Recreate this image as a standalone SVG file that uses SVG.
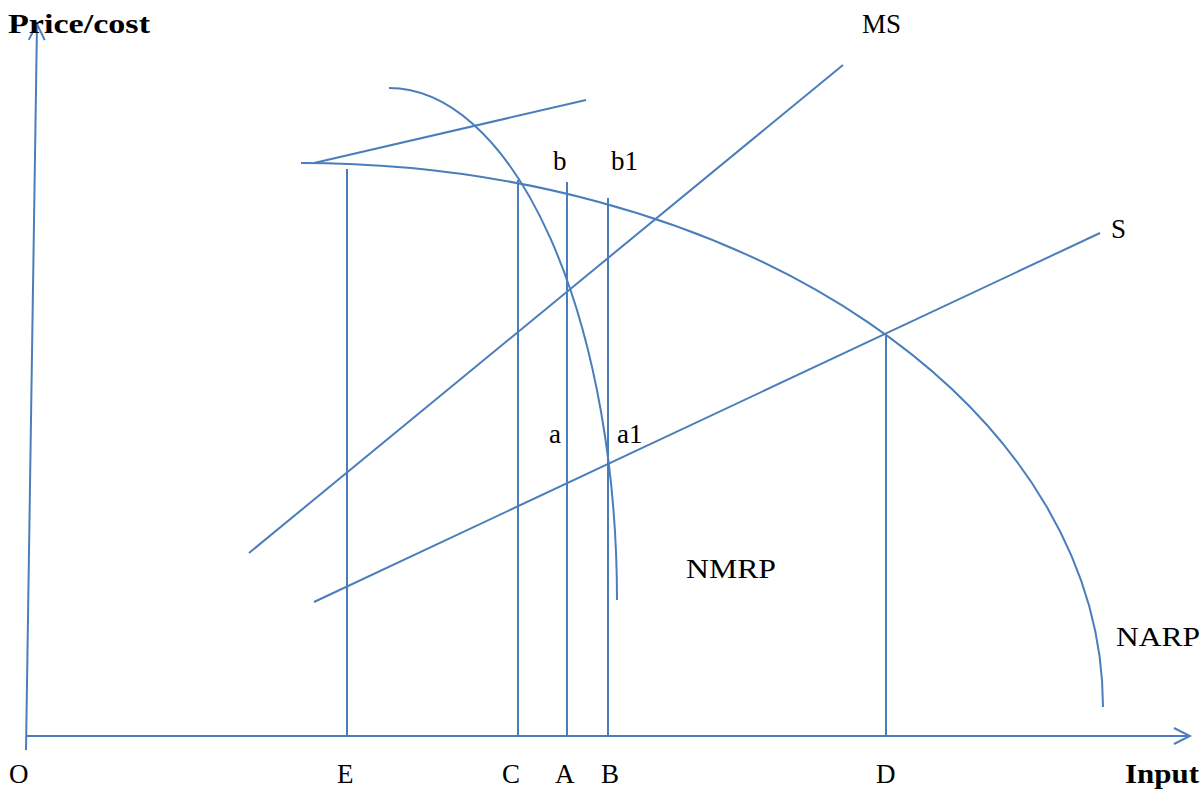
<svg xmlns="http://www.w3.org/2000/svg" width="1203" height="789" viewBox="0 0 1203 789">
<style>
.l{stroke:#4a7ebb;stroke-width:2;fill:none}
.t{font-family:"Liberation Serif",serif;font-size:27px;fill:#000}
.b{font-weight:bold}
</style>
<defs>
<marker id="ar" viewBox="0 0 20 20" refX="18" refY="10" markerWidth="20" markerHeight="20" markerUnits="userSpaceOnUse" orient="auto">
<path d="M2,2 L18,10 L2,18" fill="none" stroke="#4a7ebb" stroke-width="2"/>
</marker>
</defs>
<rect width="1203" height="789" fill="#fff"/>
<g id="axes">
<line class="l" x1="26" y1="750" x2="37" y2="24" marker-end="url(#ar)"/>
<line class="l" x1="26" y1="736" x2="1190" y2="736" marker-end="url(#ar)"/>
</g>
<g id="connectors">
<line class="l" x1="249" y1="553" x2="843" y2="65"/>
<line class="l" x1="314" y1="602" x2="1100" y2="233"/>
<line class="l" x1="314" y1="163" x2="586" y2="100"/>
<line class="l" x1="347" y1="169" x2="347" y2="736"/>
<line class="l" x1="518" y1="180" x2="518" y2="736"/>
<line class="l" x1="567" y1="182" x2="567" y2="736"/>
<line class="l" x1="608" y1="198" x2="608" y2="736"/>
<line class="l" x1="886" y1="336" x2="886" y2="736"/>
</g>
<g id="NARP"><path class="l" d="M301,163 A802,544 0 0 1 1103,707"/></g>
<g id="NMRP"><path class="l" d="M389,88 A228,512 0 0 1 617,600"/></g>
<g id="labels">
<text class="t b" x="8" y="33" textLength="142" lengthAdjust="spacingAndGlyphs">Price/cost</text>
<text class="t b" x="1125" y="783" textLength="74" lengthAdjust="spacingAndGlyphs">Input</text>
<text class="t" x="862" y="33">MS</text>
<text class="t" x="1111" y="238">S</text>
<text class="t" x="553" y="170">b</text>
<text class="t" x="611" y="170">b1</text>
<text class="t" x="549" y="443">a</text>
<text class="t" x="617" y="443">a1</text>
<text class="t" x="686" y="578" textLength="90" lengthAdjust="spacingAndGlyphs">NMRP</text>
<text class="t" x="1116" y="646" textLength="84" lengthAdjust="spacingAndGlyphs">NARP</text>
<text class="t" x="9" y="783">O</text>
<text class="t" x="337" y="783">E</text>
<text class="t" x="502" y="783">C</text>
<text class="t" x="555" y="783">A</text>
<text class="t" x="601" y="783">B</text>
<text class="t" x="876" y="783">D</text>
</g>
</svg>
